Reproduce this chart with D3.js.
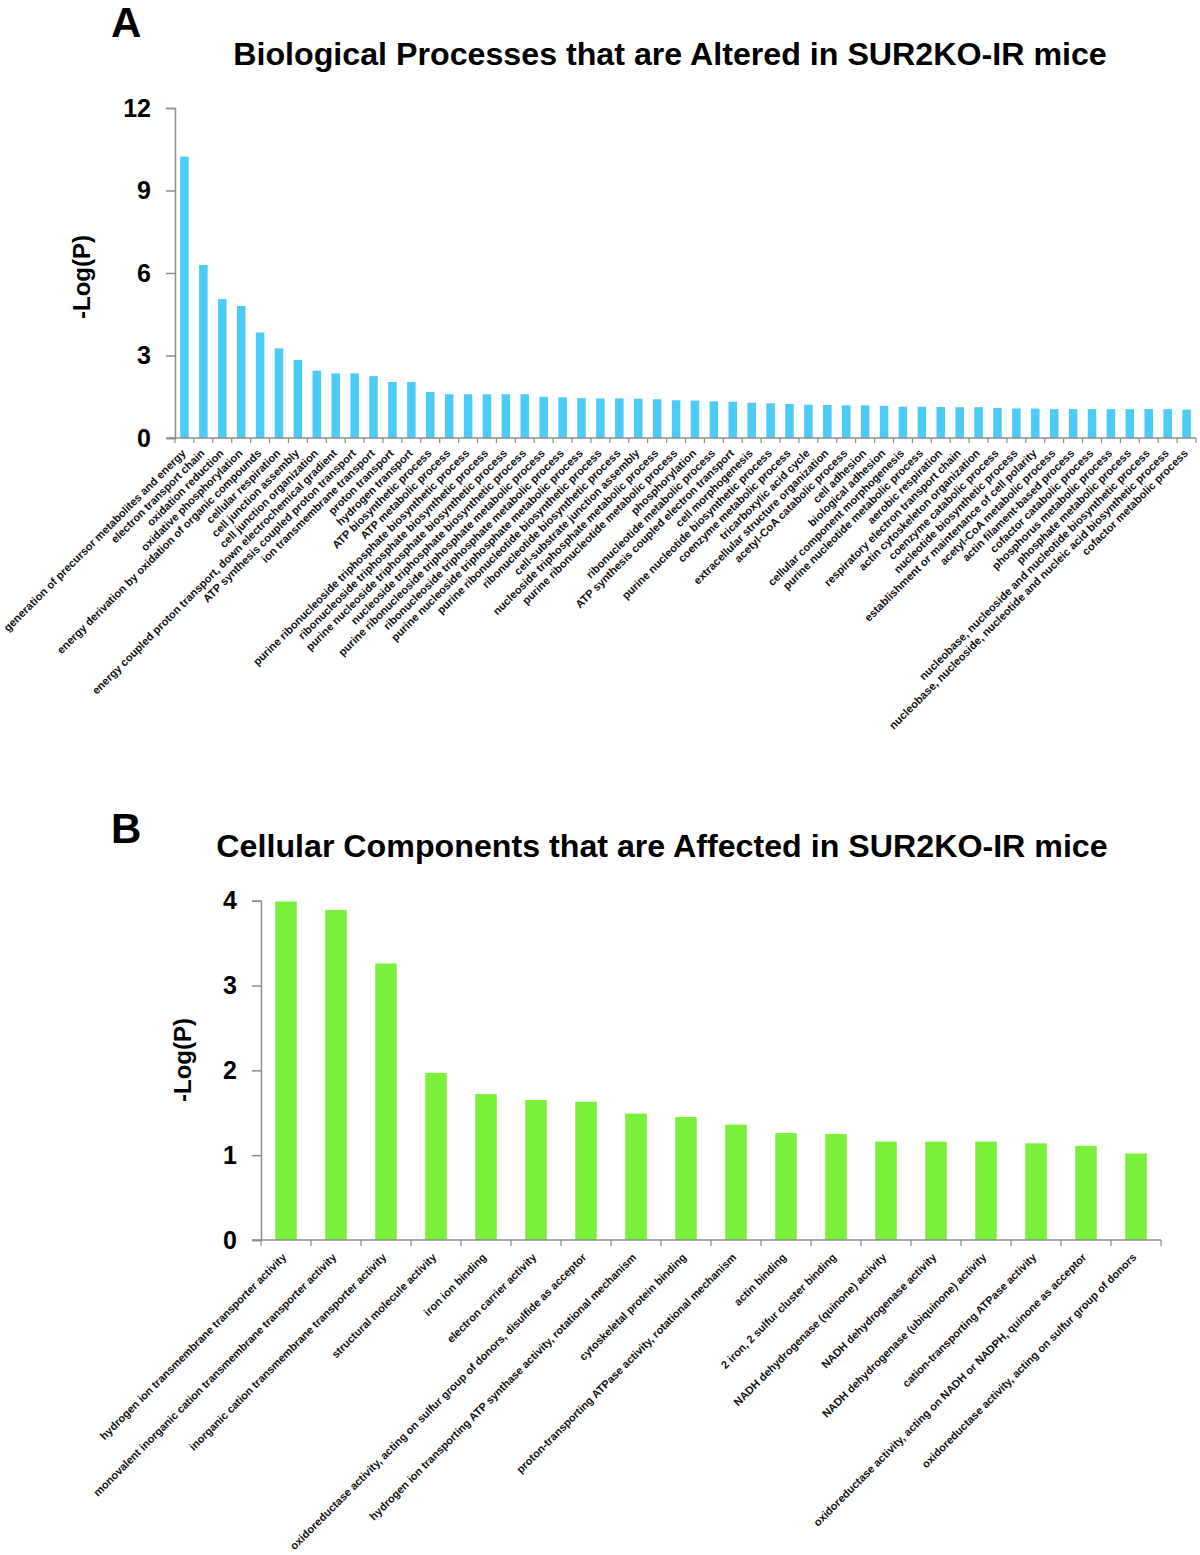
<!DOCTYPE html>
<html>
<head>
<meta charset="utf-8">
<script src="https://cdn.jsdelivr.net/npm/d3@7"></script>
<style>
  html, body { margin: 0; padding: 0; background: #fff; }
  svg { display: block; font-family: "Liberation Sans", Arial, Helvetica, sans-serif; }
</style>
</head>
<body>
<svg id="chart" width="1200" height="1555"></svg>
<script>
// ---------- Panel A data ----------
const categoriesA = [
  "generation of precursor metabolites and energy",
  "electron transport chain",
  "oxidation reduction",
  "oxidative phosphorylation",
  "energy derivation by oxidation of organic compounds",
  "cellular respiration",
  "cell junction assembly",
  "cell junction organization",
  "energy coupled proton transport, down electrochemical gradient",
  "ATP synthesis coupled proton transport",
  "ion transmembrane transport",
  "proton transport",
  "hydrogen transport",
  "ATP biosynthetic process",
  "ATP metabolic process",
  "purine ribonucleoside triphosphate biosynthetic process",
  "ribonucleoside triphosphate biosynthetic process",
  "purine nucleoside triphosphate biosynthetic process",
  "nucleoside triphosphate biosynthetic process",
  "purine ribonucleoside triphosphate metabolic process",
  "ribonucleoside triphosphate metabolic process",
  "purine nucleoside triphosphate metabolic process",
  "purine ribonucleotide biosynthetic process",
  "ribonucleotide biosynthetic process",
  "cell-substrate junction assembly",
  "nucleoside triphosphate metabolic process",
  "purine ribonucleotide metabolic process",
  "phosphorylation",
  "ribonucleotide metabolic process",
  "ATP synthesis coupled electron transport",
  "cell morphogenesis",
  "purine nucleotide biosynthetic process",
  "coenzyme metabolic process",
  "tricarboxylic acid cycle",
  "extracellular structure organization",
  "acetyl-CoA catabolic process",
  "cell adhesion",
  "biological adhesion",
  "cellular component morphogenesis",
  "purine nucleotide metabolic process",
  "aerobic respiration",
  "respiratory electron transport chain",
  "actin cytoskeleton organization",
  "coenzyme catabolic process",
  "nucleotide biosynthetic process",
  "establishment or maintenance of cell polarity",
  "acetyl-CoA metabolic process",
  "actin filament-based process",
  "cofactor catabolic process",
  "phosphorus metabolic process",
  "phosphate metabolic process",
  "nucleobase, nucleoside and nucleotide biosynthetic process",
  "nucleobase, nucleoside, nucleotide and nucleic acid biosynthetic process",
  "cofactor metabolic process"
];
const valuesA = [
  10.23, 6.29, 5.05, 4.80, 3.84, 3.26, 2.84, 2.45, 2.35, 2.35,
  2.25, 2.04, 2.04, 1.67, 1.59, 1.59, 1.59, 1.59, 1.59, 1.50,
  1.48, 1.45, 1.44, 1.44, 1.43, 1.41, 1.37, 1.36, 1.33, 1.32,
  1.28, 1.26, 1.24, 1.21, 1.20, 1.19, 1.19, 1.17, 1.14, 1.14,
  1.13, 1.12, 1.12, 1.09, 1.07, 1.07, 1.05, 1.05, 1.05, 1.05,
  1.05, 1.05, 1.05, 1.03
];
const ticksA = [0, 3, 6, 9, 12];

// ---------- Panel B data ----------
const categoriesB = [
  "hydrogen ion transmembrane transporter activity",
  "monovalent inorganic cation transmembrane transporter activity",
  "inorganic cation transmembrane transporter activity",
  "structural molecule activity",
  "iron ion binding",
  "electron carrier activity",
  "oxidoreductase activity, acting on sulfur group of donors, disulfide as acceptor",
  "hydrogen ion transporting ATP synthase activity, rotational mechanism",
  "cytoskeletal protein binding",
  "proton-transporting ATPase activity, rotational mechanism",
  "actin binding",
  "2 iron, 2 sulfur cluster binding",
  "NADH dehydrogenase (quinone) activity",
  "NADH dehydrogenase activity",
  "NADH dehydrogenase (ubiquinone) activity",
  "cation-transporting ATPase activity",
  "oxidoreductase activity, acting on NADH or NADPH, quinone as acceptor",
  "oxidoreductase activity, acting on sulfur group of donors"
];
const valuesB = [
  3.99, 3.89, 3.26, 1.97, 1.72, 1.65, 1.63, 1.49, 1.45, 1.36,
  1.26, 1.25, 1.16, 1.16, 1.16, 1.14, 1.11, 1.02
];
const ticksB = [0, 1, 2, 3, 4];

const titleA = "Biological Processes that are Altered in SUR2KO-IR mice";
const titleB = "Cellular Components that are Affected in SUR2KO-IR mice";

const svg = d3.select("#chart");
const AXIS = "#8c8c8c";

function panel(cfg) {
  const g = svg.append("g");
  const x = d3.scaleBand().domain(cfg.cats).range([cfg.x0, cfg.x1])
    .paddingInner(cfg.pad).paddingOuter(cfg.pad / 2);
  const xb = d3.scaleBand().domain(cfg.cats).range([cfg.x0, cfg.x1]);
  const y = d3.scaleLinear().domain([0, cfg.ymax]).range([cfg.yb, cfg.yt]);

  // panel letter
  g.append("text").attr("x", cfg.letterX).attr("y", cfg.letterY)
    .attr("font-size", 42).attr("font-weight", "bold").text(cfg.letter);
  // title
  g.append("text").attr("x", cfg.titleX).attr("y", cfg.titleY)
    .attr("text-anchor", "middle").attr("font-size", cfg.titleSize)
    .attr("font-weight", "bold").text(cfg.title);

  // bars
  g.selectAll("rect.bar").data(cfg.vals).enter().append("rect")
    .attr("class", "bar")
    .attr("x", (d, i) => x(cfg.cats[i]))
    .attr("width", x.bandwidth())
    .attr("y", d => y(d))
    .attr("height", d => y(0) - y(d))
    .attr("fill", cfg.color);

  // y axis
  const yAxis = d3.axisLeft(y).tickValues(cfg.ticks).tickSize(cfg.ytick).tickPadding(cfg.ypad)
    .tickFormat(d3.format("d"));
  const ya = g.append("g").attr("transform", `translate(${cfg.x0},0)`).call(yAxis);
  ya.select(".domain").attr("stroke", AXIS).attr("stroke-width", 1.5);
  ya.selectAll(".tick line").attr("stroke", AXIS).attr("stroke-width", 1.5);
  ya.selectAll(".tick text").attr("font-size", 25).attr("font-weight", "bold")
    .attr("fill", "#000").attr("font-family", "Liberation Sans, Arial, sans-serif");

  // x axis baseline and tick marks at band boundaries
  g.append("line").attr("x1", cfg.x0 - cfg.ytick).attr("x2", cfg.x1)
    .attr("y1", y(0)).attr("y2", y(0)).attr("stroke", AXIS).attr("stroke-width", 1.5);
  const bounds = cfg.cats.map(c => xb(c)).concat([cfg.x1]);
  g.selectAll("line.xt").data(bounds).enter().append("line")
    .attr("class", "xt")
    .attr("x1", d => d).attr("x2", d => d)
    .attr("y1", y(0)).attr("y2", y(0) + cfg.xtick)
    .attr("stroke", AXIS).attr("stroke-width", 1.2);

  // category labels
  g.selectAll("text.cat").data(cfg.cats).enter().append("text")
    .attr("class", "cat")
    .attr("text-anchor", "end")
    .attr("font-size", cfg.labelSize)
    .attr("font-weight", "bold")
    .attr("fill", "#111")
    .attr("transform", c => `translate(${x(c) + x.bandwidth() / 2 + cfg.ldx},${y(0) + cfg.ldy}) rotate(-45)`)
    .text(c => c);

  // y label
  g.append("text")
    .attr("transform", `translate(${cfg.ylabX},${cfg.ylabY}) rotate(-90)`)
    .attr("text-anchor", "middle").attr("font-size", 24).attr("font-weight", "bold")
    .text("-Log(P)");
}

panel({
  cats: categoriesA, vals: valuesA, ticks: ticksA, ymax: 12,
  x0: 175, x1: 1196, yt: 108, yb: 438, pad: 0.55,
  color: "#4ccbf6", ytick: 9, ypad: 15, xtick: 5,
  labelSize: 11.1, ldx: 2, ldy: 16,
  letter: "A", letterX: 111, letterY: 37,
  title: titleA, titleX: 670, titleY: 65, titleSize: 32.2,
  ylabX: 90, ylabY: 277
});

panel({
  cats: categoriesB, vals: valuesB, ticks: ticksB, ymax: 4,
  x0: 261, x1: 1161, yt: 900.7, yb: 1240, pad: 0.57,
  color: "#79f03a", ytick: 9, ypad: 15, xtick: 6,
  labelSize: 11, ldx: 1, ldy: 18,
  letter: "B", letterX: 111, letterY: 843,
  title: titleB, titleX: 662, titleY: 857, titleSize: 32.2,
  ylabX: 191, ylabY: 1060
});
</script>
</body>
</html>
